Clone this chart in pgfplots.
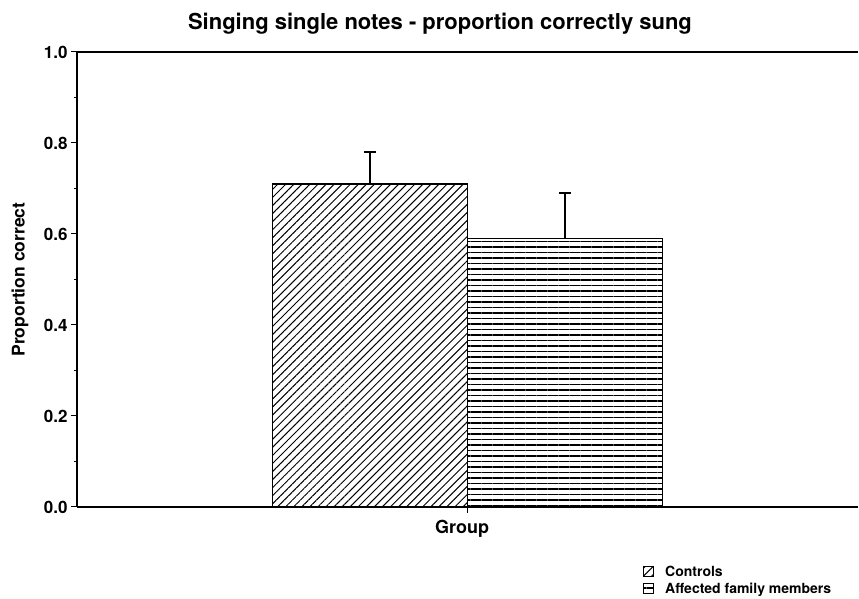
\documentclass[border=0pt]{standalone}
\usepackage{fontspec}
\setmainfont{TeX Gyre Heros}
\usepackage{pgfplots}
\pgfplotsset{compat=1.18}
\usetikzlibrary{patterns.meta}
\begin{document}
\begin{tikzpicture}[x=1pt,y=1pt]
\path[use as bounding box] (0,0) rectangle (859,599);
\node[anchor=base, font=\bfseries\fontsize{22}{26}\selectfont] at (440,569) {Singing single notes - proportion correctly sung};
\begin{axis}[
  at={(77pt,92pt)}, anchor=south west,
  scale only axis, width=781pt, height=455pt,
  xmin=-2, xmax=2, ymin=0, ymax=1,
  clip=false,
  axis lines=left,
  axis line style={-, line width=1.5pt},
  xtick={0}, xticklabels={},
  ytick={0,0.2,0.4,0.6,0.8,1.0},
  minor ytick={0.1,0.3,0.5,0.7,0.9},
  tick align=outside,
  major tick length=6pt, minor tick length=3pt,
  tick style={line width=1pt, black},
  /pgf/number format/.cd, fixed, fixed zerofill, precision=1, assume math mode=true,
  /pgfplots/.cd,
  yticklabel style={font=\bfseries\fontsize{17}{20}\selectfont},
  ylabel={Proportion correct},
  ylabel style={font=\bfseries\fontsize{17.5}{20}\selectfont, at={(axis description cs:-0.073,0.5)}, anchor=center},
  xlabel={Group},
  xlabel style={font=\bfseries\fontsize{18}{20}\selectfont, at={(axis description cs:0.493,-0.048)}, anchor=center},
  legend style={at={(axis description cs:0.7247,-0.1297)}, anchor=north west, draw=none, fill=none, inner sep=0pt,
    font=\bfseries\fontsize{14}{16}\selectfont, row sep=5pt,
    nodes={inner sep=0pt, outer sep=0pt},
    /tikz/every odd column/.append style={column sep=11pt}},
  legend cell align=left,
  legend image code/.code={\draw[#1, line width=1pt] (0pt,-4.5pt) rectangle (10pt,5.5pt);},
]
\addplot[ybar, bar width=1, bar shift=0, draw=black, line width=1.3pt,
  pattern={Lines[angle=45,distance=5.7pt,line width=1.0pt]},
  error bars/.cd, y dir=plus, y explicit,
  error bar style={line width=1.5pt, black, solid},
  error mark options={line width=1.5pt, mark size=6pt, black, solid, rotate=90}]
  coordinates {(-0.5,0.71) +- (0,0.07)};
\addlegendentry{Controls}
\addplot[ybar, bar width=1, bar shift=0, draw=black, line width=1.3pt,
  pattern={Lines[angle=0,distance=5.5pt,line width=1.2pt]},
  error bars/.cd, y dir=plus, y explicit,
  error bar style={line width=1.5pt, black, solid},
  error mark options={line width=1.5pt, mark size=6pt, black, solid, rotate=90}]
  coordinates {(0.5,0.59) +- (0,0.10)};
\addlegendentry{Affected family members}
\draw[line width=1.5pt] (rel axis cs:0,1) -- (rel axis cs:1,1);
\end{axis}
\end{tikzpicture}
\end{document}
